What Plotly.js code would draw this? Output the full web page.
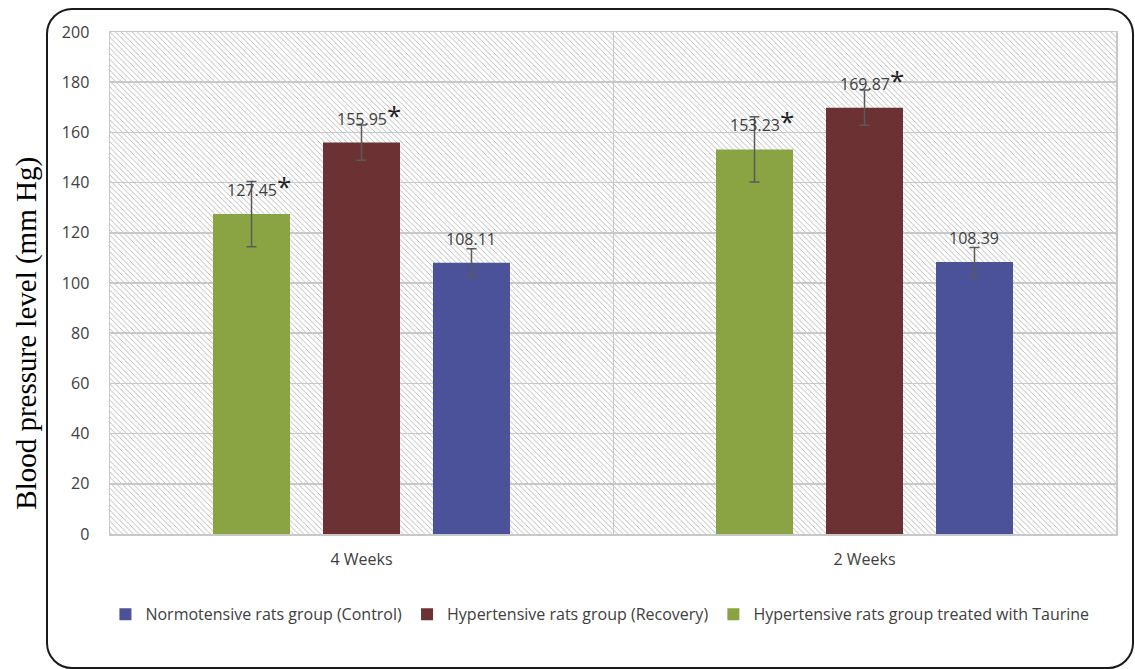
<!DOCTYPE html>
<html>
<head>
<meta charset="utf-8">
<script src="https://cdn.plot.ly/plotly-3.0.1.min.js"></script>
<style>
  html, body { margin:0; padding:0; background:#fff; }
  #wrap { position:relative; width:1135px; height:669px; overflow:hidden; }
  #chart { position:absolute; left:0; top:0; width:1135px; height:669px; }
  #frame { position:absolute; left:46px; top:8px; width:1084px; height:657px;
           border:2px solid #1a1a1a; border-radius:26px; pointer-events:none; }
</style>
</head>
<body>
<div id="wrap">
  <div id="chart"></div>
  <div id="frame"></div>
</div>
<script>
// ---- data ----
var categories = ["4 Weeks", "2 Weeks"];
var seriesNames = [
  "Hypertensive rats group treated with Taurine",
  "Hypertensive rats group (Recovery)",
  "Normotensive rats group (Control)"
];
var taurineValues  = [127.45, 153.23];
var recoveryValues = [155.95, 169.87];
var controlValues  = [108.11, 108.39];
var taurineErr  = [13, 13];
var recoveryErr = [7, 7];
var controlErr  = [5.5, 5.8];
var significant = [[true, true], [true, true], [false, false]];
var yTicks = [0, 20, 40, 60, 80, 100, 120, 140, 160, 180, 200];
var yTitle = "Blood pressure level (mm Hg)";

// ---- styles ----
var colors = ["#8aa443", "#6c3133", "#4b5299"];
var labelFont = "'Open Sans', Lato, sans-serif";
var bargap = 0.344;
var seriesValues = [taurineValues, recoveryValues, controlValues];
var seriesErr = [taurineErr, recoveryErr, controlErr];

var traces = seriesNames.map(function (name, i) {
  return {
    type: "bar",
    name: name,
    x: categories,
    y: seriesValues[i],
    marker: { color: colors[i], line: { width: 0 } },
    error_y: { type: "data", array: seriesErr[i], visible: true,
               color: "#5a5a5a", thickness: 1.5, width: 5 },
    hoverinfo: "y"
  };
});

// value labels
var annotations = [];
var slot = (1 - bargap) / seriesNames.length;
seriesValues.forEach(function (vals, i) {
  vals.forEach(function (v, c) {
    var star = significant[i][c];
    annotations.push({
      x: c + (i - (seriesNames.length - 1) / 2) * slot,
      y: v,
      xref: "x", yref: "y",
      text: v.toFixed(2) + (star ? "<span style='font-size:26px;color:#222'>*</span>" : ""),
      showarrow: false,
      xanchor: "center", yanchor: "bottom",
      xshift: star ? 7 : 0,
      yshift: star ? 8 : 11,
      font: { family: labelFont, size: 16, color: "#404040" }
    });
  });
});
// y-axis title (placed as annotation to match offset position)
annotations.push({
  text: yTitle, textangle: -90, showarrow: false,
  xref: "paper", yref: "paper", x: -0.083, y: 0.4,
  xanchor: "center", yanchor: "middle",
  font: { family: "'Liberation Serif', 'Times New Roman', serif", size: 29, color: "#000" }
});

// hatch background (decorative)
var hatchSvg = "<svg xmlns='http://www.w3.org/2000/svg' width='1006' height='502'>" +
  "<defs><pattern id='p' width='5.5' height='5.5' patternUnits='userSpaceOnUse'>" +
  "<path d='M-1,-1 L6.5,6.5 M-1,4.5 L1,6.5 M4.5,-1 L6.5,1' stroke='#b5b5b5' stroke-width='0.9'/></pattern></defs>" +
  "<rect width='1006' height='502' fill='url(#p)'/></svg>";
var hatchUri = "data:image/svg+xml;charset=utf-8," + encodeURIComponent(hatchSvg);

var layout = {
  width: 1135, height: 669,
  margin: { l: 110, r: 19, t: 32, b: 135 },
  paper_bgcolor: "#ffffff",
  plot_bgcolor: "#ffffff",
  barmode: "group",
  bargap: bargap,
  bargroupgap: 0.3,
  showlegend: true,
  legend: {
    orientation: "h", traceorder: "reversed",
    x: 0.487, xanchor: "center", y: -0.16, yanchor: "middle",
    font: { family: labelFont, size: 16, color: "#404040" },
    itemwidth: 30
  },
  xaxis: {
    type: "category",
    tickson: "boundaries",
    showgrid: true, gridcolor: "#c8c8c8", gridwidth: 1,
    showline: true, linecolor: "#c8c8c8", linewidth: 1.5, mirror: true,
    ticks: "", ticklen: 0, ticklabelstandoff: 10,
    tickfont: { family: labelFont, size: 16, color: "#404040" },
    zeroline: false
  },
  yaxis: {
    range: [0, 200],
    tickvals: yTicks,
    showgrid: true, gridcolor: "#c8c8c8", gridwidth: 1.5,
    showline: true, linecolor: "#c8c8c8", linewidth: 1.5, mirror: true,
    zeroline: false,
    ticks: "", ticklabelstandoff: 16,
    tickfont: { family: labelFont, size: 16, color: "#404040" },
    automargin: false
  },
  images: [{
    source: hatchUri, xref: "paper", yref: "paper",
    x: 0, y: 1, sizex: 1, sizey: 1, sizing: "stretch",
    xanchor: "left", yanchor: "top", layer: "below"
  }],
  annotations: annotations
};

Plotly.newPlot("chart", traces, layout, { displayModeBar: false, staticPlot: true });
</script>
</body>
</html>
